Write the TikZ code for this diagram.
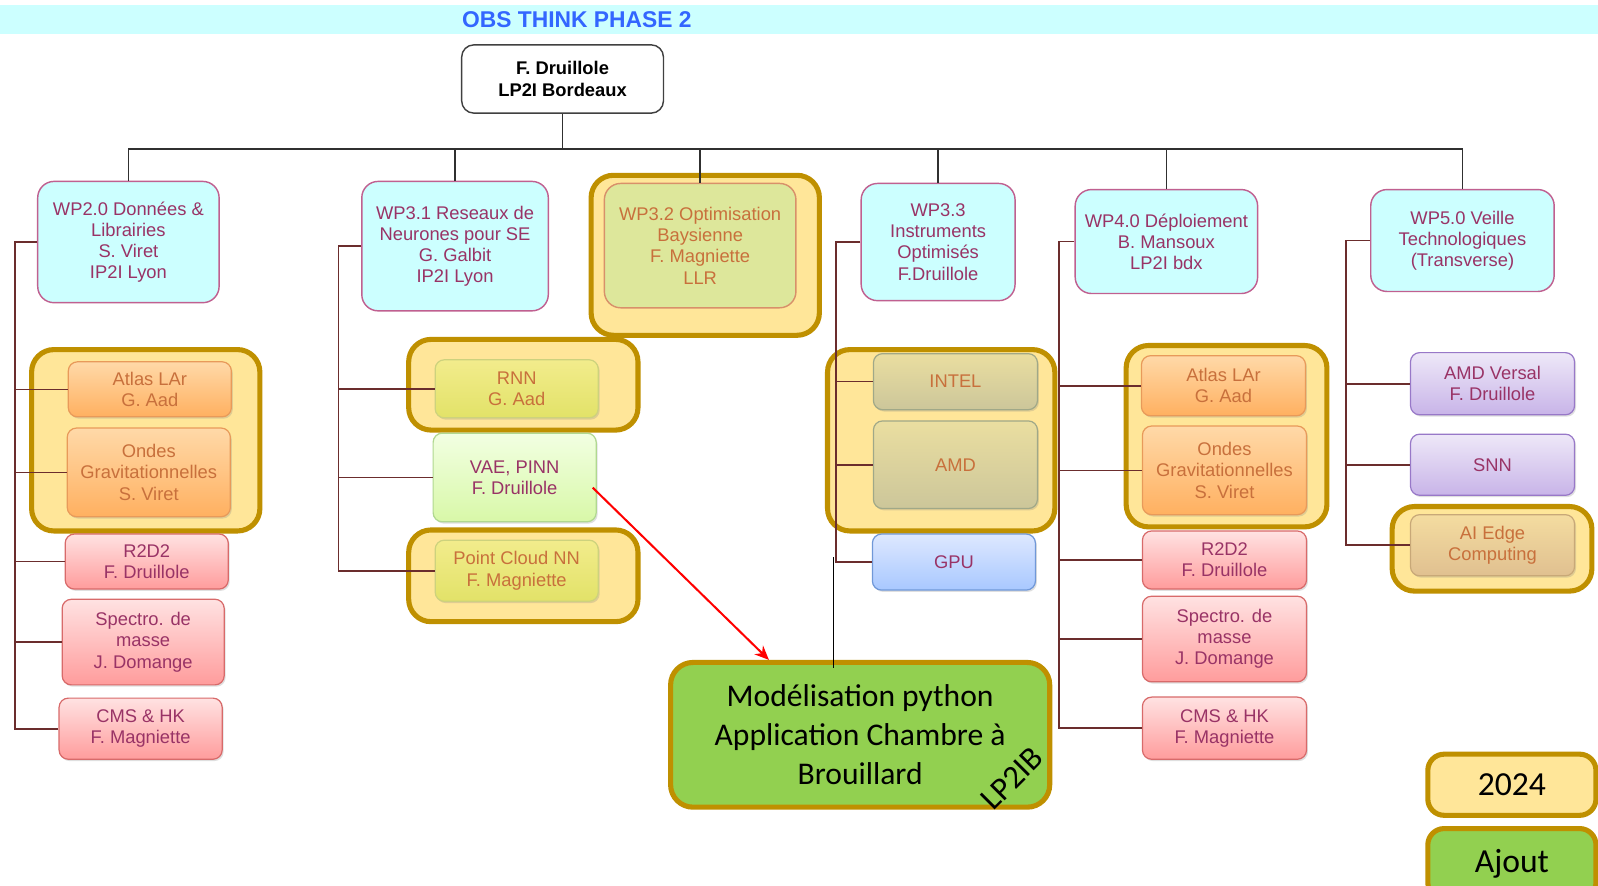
\documentclass[tikz,border=0pt]{standalone}
\usepackage{fontspec}
\setmainfont{Liberation Sans}
\newfontfamily\calib{Carlito}
\usetikzlibrary{arrows.meta,shadows,calc}
\pgfdeclarelayer{bg}
\pgfsetlayers{bg,main}

\definecolor{magtxt}{HTML}{993366}
\definecolor{orgtxt}{HTML}{C8703C}
\definecolor{hdr}{HTML}{CCFFFF}
\definecolor{ttl}{HTML}{3366FF}
\definecolor{wpfill}{HTML}{CCFFFF}
\definecolor{wpbd}{HTML}{C06090}
\definecolor{grpfill}{HTML}{FFE699}
\definecolor{grpbd}{HTML}{BF9000}
\definecolor{connc}{HTML}{6B2D2D}
\definecolor{busc}{HTML}{303030}
\definecolor{grnfill}{HTML}{92D050}

\newcommand\mybox[7]{\node[#2, minimum width={(#5-#3)*0.5pt}, minimum height={(#6-#4)*0.5pt}] (#1) at ({(#3+#5)/2},{(#4+#6)/2}) {#7};}

\tikzset{
  x=0.5pt, y=-0.5pt,
  every node/.style={font=\fontsize{9}{10.4}\selectfont, align=center, inner sep=0pt},
  shad/.style={drop shadow={shadow xshift=0.7pt, shadow yshift=-0.9pt, opacity=0.25}},
  rootbox/.style={draw=black!75, fill=white, rounded corners=6pt, line width=0.7pt, font=\fontsize{9}{10.4}\selectfont\bfseries},
  wpbox/.style={draw=wpbd, fill=wpfill, rounded corners=8pt, line width=0.7pt, text=magtxt},
  grp/.style={draw=grpbd, fill=grpfill, rounded corners=11pt, line width=2.5pt},
  sub/.style={shad, rounded corners=4.5pt, line width=0.6pt},
  orangebox/.style={sub, draw={rgb,255:red,232;green,154;blue,90}, top color={rgb,255:red,255;green,217;blue,168}, bottom color={rgb,255:red,255;green,176;blue,96}, text=orgtxt},
  pinkbox/.style={sub, draw={rgb,255:red,216;green,106;blue,106}, top color={rgb,255:red,255;green,226;blue,226}, bottom color={rgb,255:red,255;green,156;blue,156}, text=magtxt},
  ygbox/.style={sub, draw={rgb,255:red,205;green,210;blue,125}, top color={rgb,255:red,242;green,236;blue,140}, bottom color={rgb,255:red,226;green,226;blue,104}, text=orgtxt},
  lgbox/.style={sub, draw={rgb,255:red,176;green,216;blue,144}, top color={rgb,255:red,242;green,255;blue,226}, bottom color={rgb,255:red,216;green,248;blue,168}, text=magtxt},
  tanbox/.style={sub, draw={rgb,255:red,160;green,168;blue,136}, top color={rgb,255:red,234;green,222;blue,160}, bottom color={rgb,255:red,204;green,198;blue,154}, text=orgtxt},
  bluebox/.style={sub, draw={rgb,255:red,112;green,152;blue,216}, top color={rgb,255:red,222;green,232;blue,255}, bottom color={rgb,255:red,168;green,200;blue,255}, text=magtxt},
  purbox/.style={sub, draw={rgb,255:red,152;green,120;blue,200}, top color={rgb,255:red,238;green,232;blue,248}, bottom color={rgb,255:red,200;green,180;blue,232}, text=magtxt},
  aibox/.style={sub, draw={rgb,255:red,200;green,168;blue,120}, top color={rgb,255:red,244;green,220;blue,160}, bottom color={rgb,255:red,224;green,192;blue,144}, text=orgtxt},
  wp32box/.style={draw={rgb,255:red,216;green,144;blue,106}, fill={rgb,255:red,221;green,231;blue,155}, rounded corners=8pt, line width=0.7pt, text=orgtxt},
  grnbox/.style={draw=grpbd, fill=grnfill, rounded corners=11pt, line width=2.5pt, font=\calib\fontsize{15.5}{19}\selectfont},
  yearbox/.style={draw=grpbd, fill=grpfill, rounded corners=8pt, line width=2.5pt, font=\calib\fontsize{16.5}{19}\selectfont},
  addbox/.style={draw=grpbd, fill=grnfill, rounded corners=8pt, line width=2.5pt, font=\calib\fontsize{16.5}{19}\selectfont},
  conn/.style={draw=connc, line width=0.8pt},
  busl/.style={draw=busc, line width=0.8pt},
}

\begin{document}
\begin{tikzpicture}
\clip (0,0) rectangle (1568,869);

% highlight groups (background layer)
\begin{pgfonlayer}{bg}
\fill[white] (0,0) rectangle (1568,869);
\fill[hdr] (0,5) rectangle (1568,33);
\mybox{g1}{grp}{31}{343}{255}{521}{}
\mybox{g2}{grp}{401}{333}{626}{422}{}
\mybox{g3}{grp}{401}{520}{626}{610}{}
\mybox{gwp32}{grp}{580}{172}{804}{329}{}
\mybox{g4}{grp}{812}{343}{1035}{521}{}
\mybox{g5}{grp}{1105}{339}{1302}{517}{}
\mybox{g6}{grp}{1366}{497}{1562}{580}{}
\end{pgfonlayer}

% header title
\node[text=ttl, font=\fontsize{11.2}{13}\selectfont\bfseries] (title) at (566,19) {OBS THINK PHASE 2};

% root
\mybox{root}{rootbox}{453}{44}{651}{111}{F. Druillole\\LP2I Bordeaux}

% work packages
\mybox{wp20}{wpbox}{37}{178}{215}{297}{WP2.0 Données \&\\Librairies\\S. Viret\\IP2I Lyon}
\mybox{wp31}{wpbox}{355}{178}{538}{305}{WP3.1 Reseaux de\\Neurones pour SE\\G. Galbit\\IP2I Lyon}
\mybox{wp32}{wp32box}{593}{180}{781}{302}{WP3.2 Optimisation\\Baysienne\\F. Magniette\\LLR}
\mybox{wp33}{wpbox}{845}{180}{996}{295}{WP3.3\\Instruments\\Optimisés\\F.Druillole}
\mybox{wp40}{wpbox}{1055}{186}{1234}{288}{WP4.0 Déploiement\\B. Mansoux\\LP2I bdx}
\mybox{wp50}{wpbox}{1345}{186}{1525}{286}{WP5.0 Veille\\Technologiques\\(Transverse)}

% column WP2.0
\mybox{atl1}{orangebox}{67}{355}{227}{409}{Atlas LAr\\G. Aad}
\mybox{ond1}{orangebox}{66}{420}{226}{507}{Ondes\\Gravitationnelles\\S. Viret}
\mybox{r2d1}{pinkbox}{64}{524}{224}{578}{R2D2\\F. Druillole}
\mybox{spe1}{pinkbox}{61}{588}{220}{672}{Spectro. de\\masse\\J. Domange}
\mybox{cms1}{pinkbox}{58}{685}{218}{745}{CMS \& HK\\F. Magniette}

% column WP3.1
\mybox{rnn}{ygbox}{427}{353}{587}{410}{RNN\\G. Aad}
\mybox{vae}{lgbox}{425}{425}{585}{512}{VAE, PINN\\F. Druillole}
\mybox{pcn}{ygbox}{427}{530}{587}{590}{Point Cloud NN\\F. Magniette}

% column WP3.3
\mybox{intel}{tanbox}{857}{347}{1018}{402}{INTEL}
\mybox{amd}{tanbox}{857}{413}{1018}{499}{AMD}
\mybox{gpu}{bluebox}{856}{524}{1016}{579}{GPU}

% column WP4.0
\mybox{atl2}{orangebox}{1120}{349}{1281}{408}{Atlas LAr\\G. Aad}
\mybox{ond2}{orangebox}{1121}{418}{1282}{505}{Ondes\\Gravitationnelles\\S. Viret}
\mybox{r2d2}{pinkbox}{1121}{521}{1282}{578}{R2D2\\F. Druillole}
\mybox{spe2}{pinkbox}{1121}{585}{1282}{669}{Spectro. de\\masse\\J. Domange}
\mybox{cms2}{pinkbox}{1121}{684}{1282}{745}{CMS \& HK\\F. Magniette}

% column WP5.0
\mybox{amdv}{purbox}{1384}{346}{1545}{407}{AMD Versal\\F. Druillole}
\mybox{snn}{purbox}{1384}{426}{1545}{486}{SNN}
\mybox{aie}{aibox}{1384}{505}{1545}{565}{AI Edge\\Computing}

% green added box and legend
\mybox{grn}{grnbox}{658}{650}{1030}{792}{Modélisation python\\Application Chambre à\\Brouillard}
\node[font=\calib\fontsize{16}{19}\selectfont, rotate=45] (lp2ib) at (993,764) {LP2IB};
\mybox{y2024}{yearbox}{1401}{740}{1566}{800}{2024}
\mybox{ajout}{addbox}{1401}{813}{1566}{882}{Ajout}

% top bus
\coordinate (bus) at (0,146);
\draw[busl] (root.south) -- (root.south |- bus);
\draw[busl] (wp20.north) -- (wp20.north |- bus) -- (wp50.north |- bus) -- (wp50.north);
\foreach \n in {wp31,wp32,wp33,wp40} \draw[busl] (\n.north) -- (\n.north |- bus);

% column connectors
\coordinate (v1) at (15,0);
\draw[conn] (wp20.west) -- (v1 |- wp20.west) -- (v1 |- cms1.west) -- (cms1.west);
\foreach \n in {atl1,ond1,r2d1,spe1} \draw[conn] (v1 |- \n.west) -- (\n.west);

\coordinate (v2) at (332,0);
\draw[conn] (wp31.west) -- (v2 |- wp31.west) -- (v2 |- pcn.west) -- (pcn.west);
\foreach \n in {rnn,vae} \draw[conn] (v2 |- \n.west) -- (\n.west);

\coordinate (v3) at (820,0);
\draw[conn] (wp33.west) -- (v3 |- wp33.west) -- (v3 |- gpu.west) -- (gpu.west);
\foreach \n in {intel,amd} \draw[conn] (v3 |- \n.west) -- (\n.west);

\coordinate (v4) at (1039,0);
\draw[conn] (wp40.west) -- (v4 |- wp40.west) -- (v4 |- cms2.west) -- (cms2.west);
\foreach \n in {atl2,ond2,r2d2,spe2} \draw[conn] (v4 |- \n.west) -- (\n.west);

\coordinate (v5) at (1321,0);
\draw[conn] (wp50.west) -- (v5 |- wp50.west) -- (v5 |- aie.west) -- (aie.west);
\foreach \n in {amdv,snn} \draw[conn] (v5 |- \n.west) -- (\n.west);

% links to the added box
\coordinate (blk) at (818,547);
\draw[black, line width=0.8pt] (blk) -- ([yshift=-4pt]blk |- grn.north);
\draw[red, line width=1pt, -{Stealth[length=7pt,width=6pt]}] ([xshift=-2pt,yshift=-5pt]vae.east) -- ([xshift=49.5pt]grn.north west);
\end{tikzpicture}
\end{document}
